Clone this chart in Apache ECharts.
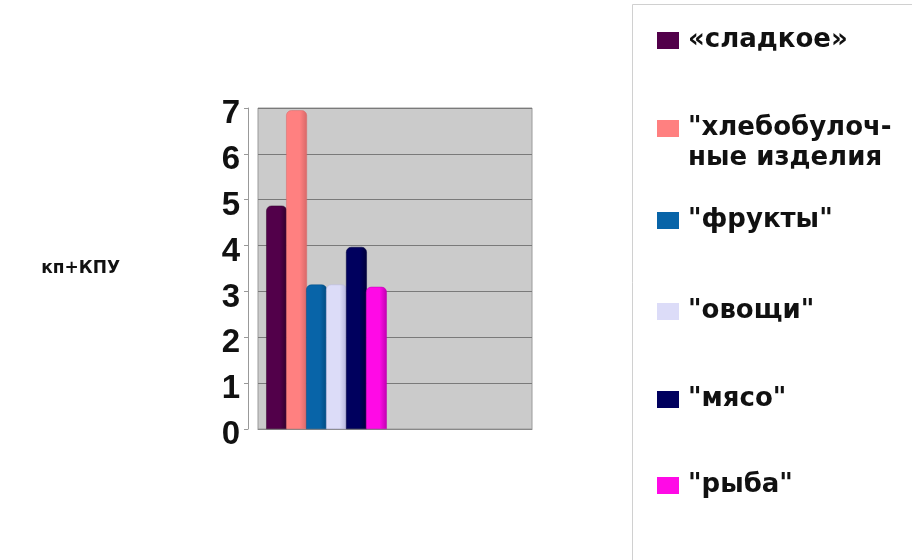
<!DOCTYPE html>
<html>
<head>
<meta charset="utf-8">
<script src="https://cdn.jsdelivr.net/npm/echarts@6/dist/echarts.min.js"></script>
<style>
  html, body { margin: 0; padding: 0; background: #fff; }
  #chart { width: 912px; height: 560px; }
</style>
</head>
<body>
<div id="chart"></div>
<script>
// categories: only the first group has values
const categories = ['1', '2']
const seriesNames = ['«сладкое»', '"хлебобулочные изделия', '"фрукты"', '"овощи"', '"мясо"', '"рыба"']
const legendLabels = ['«сладкое»', '"хлебобулоч-', '"фрукты"', '"овощи"', '"мясо"', '"рыба"']
const legendSecondLine = 'ные изделия'
const seriesValues = [
    [4.87, null],
    [6.95, null],
    [3.15, null],
    [3.15, null],
    [3.97, null],
    [3.1, null],
]
const yTicks = [0, 1, 2, 3, 4, 5, 6, 7]

const colors = ['#52004a', '#ff8080', '#0864a8', '#dcdcf8', '#00005e', '#ff0ae6']
const shades = ['#30002a', '#d86868', '#004a80', '#b4b4dc', '#00003a', '#c000b0']
const legendTops = [25, 113, 205, 296, 384, 470]

const chart = echarts.init(document.getElementById('chart'))

const series = seriesNames.map((name, i) => ({
    name,
    type: 'bar',
    data: seriesValues[i],
    barGap: '-4%',
    barCategoryGap: '12%',
    itemStyle: {
        borderRadius: [5, 5, 0, 0],
        color: new echarts.graphic.LinearGradient(0, 0, 1, 0, [
            { offset: 0, color: colors[i] },
            { offset: 0.65, color: colors[i] },
            { offset: 1, color: shades[i] },
        ]),
        borderColor: shades[i],
        borderWidth: 0.5,
    },
}))

const legendText = {
    fontFamily: 'DejaVu Sans',
    fontWeight: 'bold',
    fontSize: 26,
    lineHeight: 31,
    color: '#111',
}

const legends = seriesNames.map((name, i) => ({
    data: [name],
    orient: 'vertical',
    left: 657,
    top: legendTops[i],
    padding: 0,
    icon: 'rect',
    itemWidth: 22,
    itemHeight: 17,
    selectedMode: false,
    formatter: () => legendLabels[i],
    itemStyle: { color: colors[i], borderWidth: 0 },
    textStyle: { ...legendText, padding: [0, 0, 0, 4] },
}))

const option = {
    animation: false,
    backgroundColor: '#fff',
    color: colors,
    graphic: [
        {
            type: 'rect',
            left: 632,
            top: 4,
            shape: { width: 300, height: 580 },
            style: { fill: '#fff', stroke: '#d0d0d0', lineWidth: 1 },
            z: -1,
        },
        {
            // second line of the wrapped legend label
            type: 'text',
            left: 688,
            top: 145,
            style: {
                text: legendSecondLine,
                font: 'bold 26px "DejaVu Sans"',
                fill: '#111',
            },
        },
    ],
    legend: legends,
    grid: {
        left: 258,
        right: 380,
        top: 108,
        bottom: 131,
        show: true,
        backgroundColor: '#cbcbcb',
        borderColor: '#9a9a9a',
        borderWidth: 1,
    },
    xAxis: {
        type: 'category',
        data: categories,
        axisLabel: { show: false },
        axisTick: { show: false },
        axisLine: { lineStyle: { color: '#888' } },
    },
    yAxis: {
        type: 'value',
        min: yTicks[0],
        max: yTicks[yTicks.length - 1],
        interval: 1,
        offset: 10,
        name: 'кп+КПУ',
        nameLocation: 'middle',
        nameRotate: 0,
        nameGap: 128,
        nameTextStyle: {
            fontFamily: 'DejaVu Sans',
            fontWeight: 'bold',
            fontSize: 17,
            color: '#111',
            align: 'right',
            padding: [6, 0, 0, 0],
        },
        axisLine: { show: true, lineStyle: { color: '#999' } },
        axisTick: { show: true, length: 4, lineStyle: { color: '#999' } },
        axisLabel: {
            margin: 8,
            fontFamily: 'Liberation Sans',
            fontWeight: 'bold',
            fontSize: 33,
            color: '#111',
            // labels sit a little below their gridlines, as in the 3D original
            verticalAlign: 'top',
            lineHeight: 12,
        },
        splitLine: { lineStyle: { color: '#7a7a7a', width: 1 } },
    },
    series,
}

chart.setOption(option)
</script>
</body>
</html>
